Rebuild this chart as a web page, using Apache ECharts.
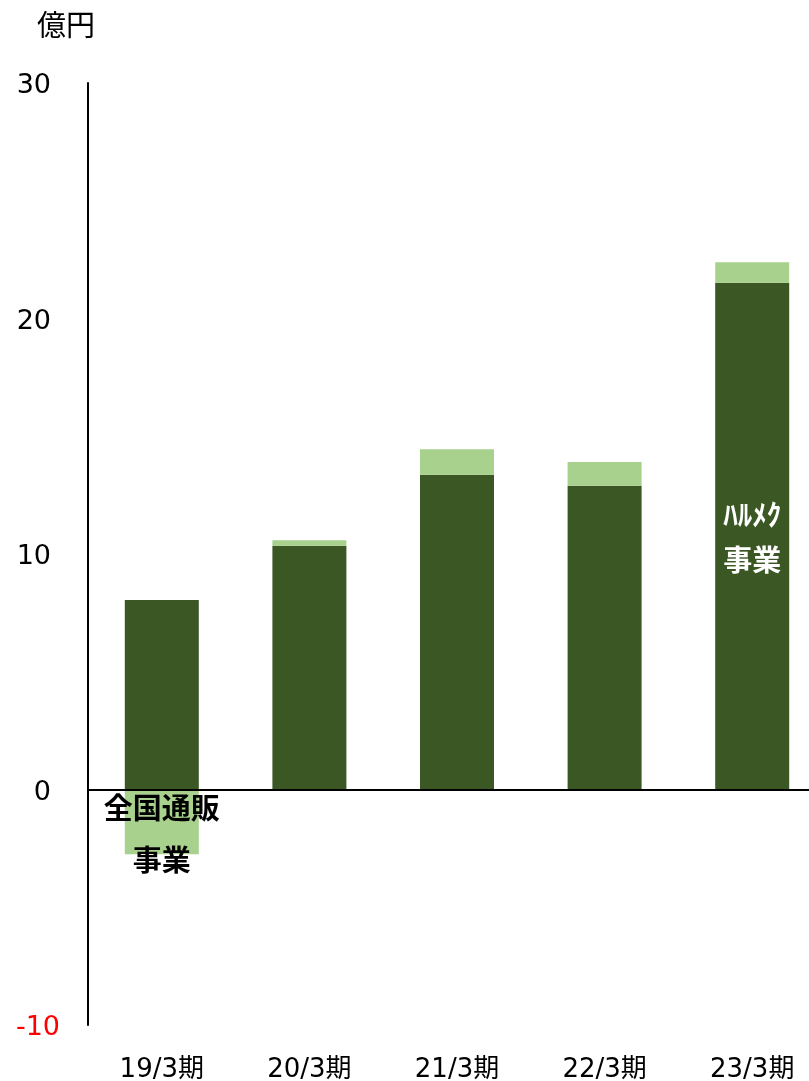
<!DOCTYPE html>
<html>
<head>
<meta charset="utf-8">
<script src="https://cdn.jsdelivr.net/npm/echarts@6/dist/echarts.min.js"></script>
<style>
html,body{margin:0;padding:0;background:#fff;}
#chart{width:809px;height:1081px;}
</style>
</head>
<body>
<div id="chart"></div>
<script>
var categories = ['19/3期', '20/3期', '21/3期', '22/3期', '23/3期'];
var harumekValues = [8.05, 10.35, 13.37, 12.9, 21.52];
var tsuhanValues = [-2.75, 0.23, 1.08, 1.01, 0.87];
var yTicks = [-10, 0, 10, 20, 30];
var unitLabel = '億円';
var harumekLabel = 'ﾊﾙﾒｸ\n事業';
var tsuhanLabel = '全国通販\n事業';

var FONT = "'DejaVu Sans', 'Noto Sans CJK JP', sans-serif";
var DARK = '#3A5724';
var LIGHT = '#A9D18E';

var chart = echarts.init(document.getElementById('chart'), null, {renderer: 'canvas'});

var darkData = harumekValues.map(function (v, i) {
  if (i === harumekValues.length - 1) {
    return {
      value: v,
      label: {
        show: true,
        formatter: harumekLabel,
        position: ['50%', 255],
        align: 'center',
        verticalAlign: 'middle',
        color: '#fff',
        fontWeight: 'bold',
        fontSize: 29,
        lineHeight: 45,
        fontFamily: "'Noto Sans CJK JP', sans-serif"
      }
    };
  }
  return v;
});

var lightData = tsuhanValues.map(function (v, i) {
  if (i === 0) {
    return {
      value: v,
      label: {
        show: true,
        formatter: tsuhanLabel,
        position: 'inside',
        offset: [0, 12],
        color: '#000',
        fontWeight: 'bold',
        fontSize: 29,
        lineHeight: 52,
        fontFamily: "'Noto Sans CJK JP', sans-serif"
      }
    };
  }
  return v;
});

var option = {
  animation: false,
  backgroundColor: '#fff',
  grid: {left: 88, width: 738, top: 83, bottom: 56, containLabel: false, outerBoundsMode: 'none'},
  xAxis: {
    type: 'category',
    data: categories,
    axisLine: {show: false, onZero: false},
    axisTick: {show: false},
    position: 'bottom',
    axisLabel: {
      color: '#000',
      fontSize: 26,
      fontFamily: FONT,
      margin: 32,
      interval: 0
    }
  },
  yAxis: {
    type: 'value',
    min: yTicks[0],
    max: yTicks[yTicks.length - 1],
    interval: 10,
    name: unitLabel,
    nameLocation: 'end',
    nameGap: 40,
    nameTextStyle: {
      color: '#000',
      fontSize: 29,
      fontFamily: FONT,
      padding: [0, 44, 0, 0]
    },
    splitLine: {show: false},
    axisTick: {show: false},
    axisLine: {show: true, lineStyle: {color: '#000', width: 2}},
    axisLabel: {
      margin: 28,
      padding: [6, 0, 0, 0],
      formatter: function (v) {
        if (v < 0) return '{neg|' + v + '}';
        return '{pos|' + v + '}{sp| }';
      },
      rich: {
        neg: {color: '#FF0000', fontSize: 27, fontFamily: FONT},
        pos: {color: '#000', fontSize: 27, fontFamily: FONT},
        sp: {width: 9, fontSize: 27}
      }
    }
  },
  series: [
    {
      name: 'ハルメク事業',
      type: 'bar',
      stack: 'total',
      barWidth: 74,
      itemStyle: {color: DARK},
      data: darkData,
      markLine: {
        silent: true,
        symbol: ['none', 'none'],
        label: {show: false},
        lineStyle: {color: '#000', width: 2, type: 'solid'},
        data: [{yAxis: 0}]
      },
      z: 2
    },
    {
      name: '全国通販事業',
      type: 'bar',
      stack: 'total',
      barWidth: 74,
      itemStyle: {color: LIGHT},
      data: lightData,
      z: 2
    }
  ]
};
chart.setOption(option);
</script>
</body>
</html>
